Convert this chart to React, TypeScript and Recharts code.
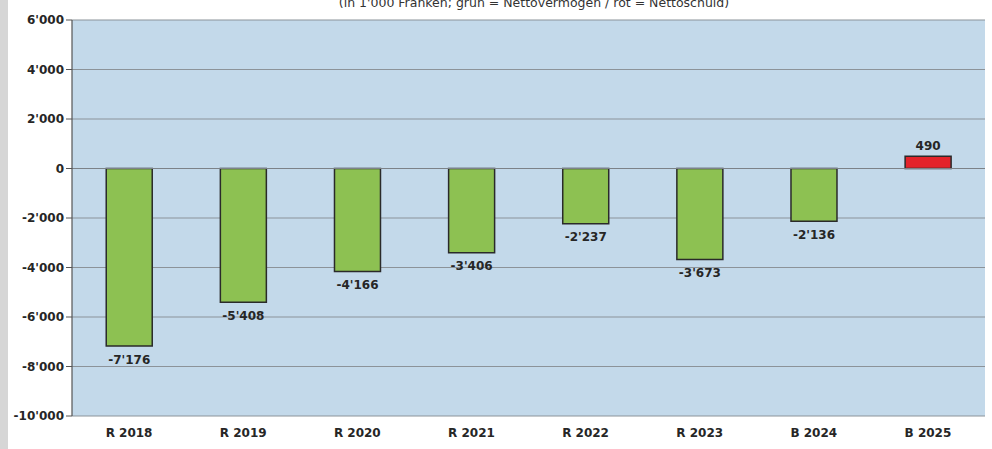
import React from 'react';
import { BarChart, Bar, XAxis, YAxis, CartesianGrid, Cell, LabelList, ReferenceLine } from 'recharts';

const categories = ['R 2018', 'R 2019', 'R 2020', 'R 2021', 'R 2022', 'R 2023', 'B 2024', 'B 2025'];
const values = [-7176, -5408, -4166, -3406, -2237, -3673, -2136, 490];
const yTicks = [6000, 4000, 2000, 0, -2000, -4000, -6000, -8000, -10000];

const fmt = (v: number) => {
  const s = Math.abs(v).toString().replace(/\B(?=(\d{3})+(?!\d))/g, "'");
  return (v < 0 ? '-' : '') + s;
};

const data = categories.map((name, i) => ({ name, value: values[i] }));

const FONT = 'DejaVu Sans, sans-serif';

const BarLabel = (props: any) => {
  const { x, y, width, height, value } = props;
  const top = Math.min(y, y + height);
  const bottom = Math.max(y, y + height);
  const cy = value < 0 ? bottom + 14 : top - 10;
  return (
    <text x={x + width / 2} y={cy} textAnchor="middle" dominantBaseline="middle"
      fontFamily={FONT} fontWeight="bold" fontSize={12} fill="#262626">
      {fmt(value)}
    </text>
  );
};

const App: React.FC = () => {
  return (
    <div style={{ position: 'absolute', left: 0, top: 0, width: 992, height: 449, background: '#fff', overflow: 'hidden' }}>
      <div style={{ position: 'absolute', left: 0, top: 0, width: 8, height: 449, background: '#d6d6d6' }} />
      <div style={{ position: 'absolute', left: 0, width: 992, top: -5, textAlign: 'center', paddingLeft: 76,
        boxSizing: 'border-box', fontFamily: FONT, fontSize: 12.5, color: '#333' }}>
        (in 1'000 Franken; grün = Nettovermögen / rot = Nettoschuld)
      </div>
      <BarChart width={992} height={449} data={data} barCategoryGap="30%"
        margin={{ top: 20, right: 7, bottom: 0, left: 0 }}>
        <CartesianGrid vertical={false} fill="#c3d9ea" stroke="#8c9399" strokeWidth={1.2} />
        <XAxis dataKey="name" axisLine={false} tickLine={false} height={33}
          tick={{ fontFamily: FONT, fontWeight: 'bold', fontSize: 12, fill: '#262626' }} tickMargin={6} />
        <YAxis width={72} domain={[-10000, 6000]} ticks={yTicks} interval={0} tickFormatter={fmt}
          axisLine={{ stroke: '#555', strokeWidth: 1.2 }} tickLine={{ stroke: '#555' }} tickSize={6}
          tick={{ fontFamily: FONT, fontWeight: 'bold', fontSize: 12, fill: '#262626' }} />
        <ReferenceLine y={0} stroke="#7c8288" strokeWidth={1.2} />
        <Bar dataKey="value" isAnimationActive={false} stroke="#2a2a2a" strokeWidth={1.5}>
          {data.map((d) => (
            <Cell key={d.name} fill={d.value < 0 ? '#8dc152' : '#e3232a'} />
          ))}
          <LabelList dataKey="value" content={BarLabel} />
        </Bar>
      </BarChart>
    </div>
  );
};

export default App;
